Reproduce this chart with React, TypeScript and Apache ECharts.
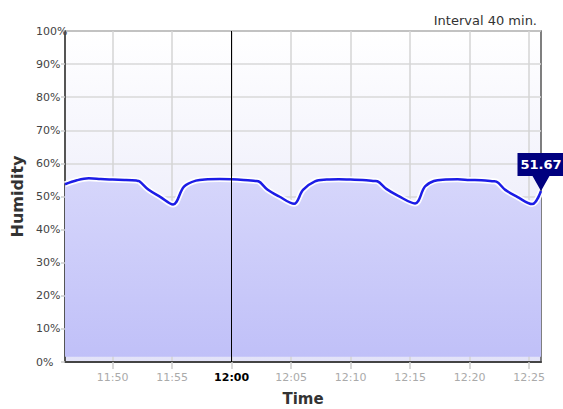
import React, { useEffect, useRef } from "react";
import * as echarts from "echarts";

const times = [
  "11:46:00", "11:47:00", "11:48:00", "11:49:00", "11:50:00", "11:51:00", "11:52:00", "11:52:15",
  "11:53:00", "11:54:00", "11:55:05", "11:56:00", "11:57:00", "11:58:00", "11:59:00", "12:00:00",
  "12:01:00", "12:02:00", "12:02:15", "12:03:00", "12:04:00", "12:05:15", "12:06:00", "12:07:00",
  "12:08:00", "12:09:00", "12:10:00", "12:11:00", "12:12:00", "12:12:15", "12:13:00", "12:14:00",
  "12:15:25", "12:16:15", "12:17:00", "12:18:00", "12:19:00", "12:20:00", "12:21:00", "12:22:00",
  "12:22:15", "12:23:00", "12:24:00", "12:25:15", "12:26:00",
];
const humidity = [
  53.7, 54.9, 55.5, 55.3, 55.1, 55.0, 54.8, 54.6,
  52.1, 49.9, 47.6, 53.0, 54.8, 55.2, 55.3, 55.2,
  55.0, 54.7, 54.6, 52.1, 50.0, 47.8, 52.0, 54.6,
  55.1, 55.2, 55.1, 55.0, 54.7, 54.6, 52.3, 50.2,
  47.9, 53.0, 54.7, 55.1, 55.2, 55.0, 54.9, 54.6,
  54.5, 52.0, 49.9, 47.7, 51.67,
];
const xTickLabels = ["11:50", "11:55", "12:00", "12:05", "12:10", "12:15", "12:20", "12:25"];
const xStart = "11:46";
const xEnd = "12:26";
const highlightTick = "12:00";
const yTicks = [0, 10, 20, 30, 40, 50, 60, 70, 80, 90, 100];
const intervalText = "Interval 40 min.";

const toMin = (s: string) => {
  const p = s.split(":").map(Number);
  return p[0] * 60 + p[1] + (p[2] || 0) / 60;
};
const fmt = (v: number) => {
  const h = Math.floor(v / 60);
  const m = Math.round(v - h * 60);
  return `${h}:${m < 10 ? "0" + m : m}`;
};

export default function App() {
  const ref = useRef<HTMLDivElement>(null);
  useEffect(() => {
    if (!ref.current) return;
    const chart = echarts.init(ref.current, undefined, { renderer: "svg" });
    const data = times.map((t, i) => [toMin(t), humidity[i]]);
    const last = data[data.length - 1];
    const tickVals = xTickLabels.map(toMin);
    chart.setOption({
      animation: false,
      textStyle: { fontFamily: "DejaVu Sans" },
      title: {
        text: intervalText,
        right: 21,
        top: 9,
        textStyle: { fontSize: 13, fontWeight: "normal", color: "#333", fontFamily: "DejaVu Sans" },
      },
      grid: {
        left: 65,
        right: 22,
        top: 31,
        bottom: 47,
        containLabel: false,
        outerBoundsMode: "none",
        show: true,
        borderColor: "#555",
        borderWidth: 1.5,
        backgroundColor: {
          type: "linear", x: 0, y: 0, x2: 0, y2: 1,
          colorStops: [
            { offset: 0, color: "#ffffff" },
            { offset: 1, color: "#e2e2f8" },
          ],
        },
      },
      xAxis: {
        type: "value",
        min: toMin(xStart),
        max: toMin(xEnd),
        name: "Time",
        nameLocation: "middle",
        nameGap: 29,
        nameTextStyle: { fontSize: 15, fontWeight: "bold", color: "#333" },
        axisLine: { show: true, lineStyle: { color: "#444", width: 2 } },
        axisTick: { show: true, length: 7, customValues: tickVals, lineStyle: { color: "#ccc", width: 1.5 } },
        splitLine: { show: true, lineStyle: { color: "#d4d4d4", width: 1.5 } },
        axisLabel: {
          customValues: tickVals,
          margin: 10,
          fontSize: 11,
          formatter: (v: number) => (fmt(v) === highlightTick ? `{b|${fmt(v)}}` : `{n|${fmt(v)}}`),
          rich: {
            b: { color: "#000", fontWeight: "bold", fontSize: 11 },
            n: { color: "#aaa", fontSize: 11 },
          },
        },
      },
      yAxis: {
        type: "value",
        min: yTicks[0],
        max: yTicks[yTicks.length - 1],
        interval: 10,
        name: "Humidity",
        nameLocation: "middle",
        nameGap: 39,
        nameTextStyle: { fontSize: 16, fontWeight: "bold", color: "#333" },
        axisLine: { show: true, lineStyle: { color: "#555", width: 2 } },
        axisTick: { show: true, length: 4, lineStyle: { color: "#ccc", width: 1.5 } },
        splitLine: { show: true, lineStyle: { color: "#d8d8d8", width: 1.5 } },
        axisLabel: {
          align: "left",
          margin: 29,
          fontSize: 11,
          color: "#444",
          formatter: "{value}%",
        },
      },
      series: [
        {
          type: "line",
          data,
          smooth: 0.35,
          symbol: "none",
          lineStyle: { color: "rgba(255,255,255,0.95)", width: 6 },
          areaStyle: {
            origin: 1.6,
            opacity: 1,
            color: {
              type: "linear", x: 0, y: 0, x2: 0, y2: 1,
              colorStops: [
                { offset: 0, color: "#d6d6fb" },
                { offset: 1, color: "#c0c0f8" },
              ],
            },
          },
          markLine: {
            silent: true,
            symbol: ["none", "none"],
            label: { show: false },
            lineStyle: { color: "#000", width: 1, type: "solid" },
            data: [{ xAxis: toMin(highlightTick) }],
          },
          z: 2,
        },
        {
          type: "line",
          data,
          smooth: 0.35,
          symbol: "none",
          lineStyle: { color: "#1c1ce6", width: 2.5 },
          markPoint: {
            silent: true,
            symbol: "path://M0,0 L47,0 L47,23 L32,23 L23.5,38 L15,23 L0,23 Z",
            symbolSize: [47, 38],
            symbolOffset: [0, -19],
            itemStyle: { color: "#00007f" },
            label: {
              show: true,
              position: "inside",
              offset: [0, -7.5],
              color: "#fff",
              fontWeight: "bold",
              fontSize: 13,
              formatter: () => last[1].toFixed(2),
            },
            data: [{ coord: last, value: last[1] }],
          },
          z: 3,
        },
      ],
    });
    return () => chart.dispose();
  }, []);
  return (
    <div
      ref={ref}
      style={{ position: "fixed", left: 0, top: 0, width: 563, height: 409, background: "#fff" }}
    />
  );
}
